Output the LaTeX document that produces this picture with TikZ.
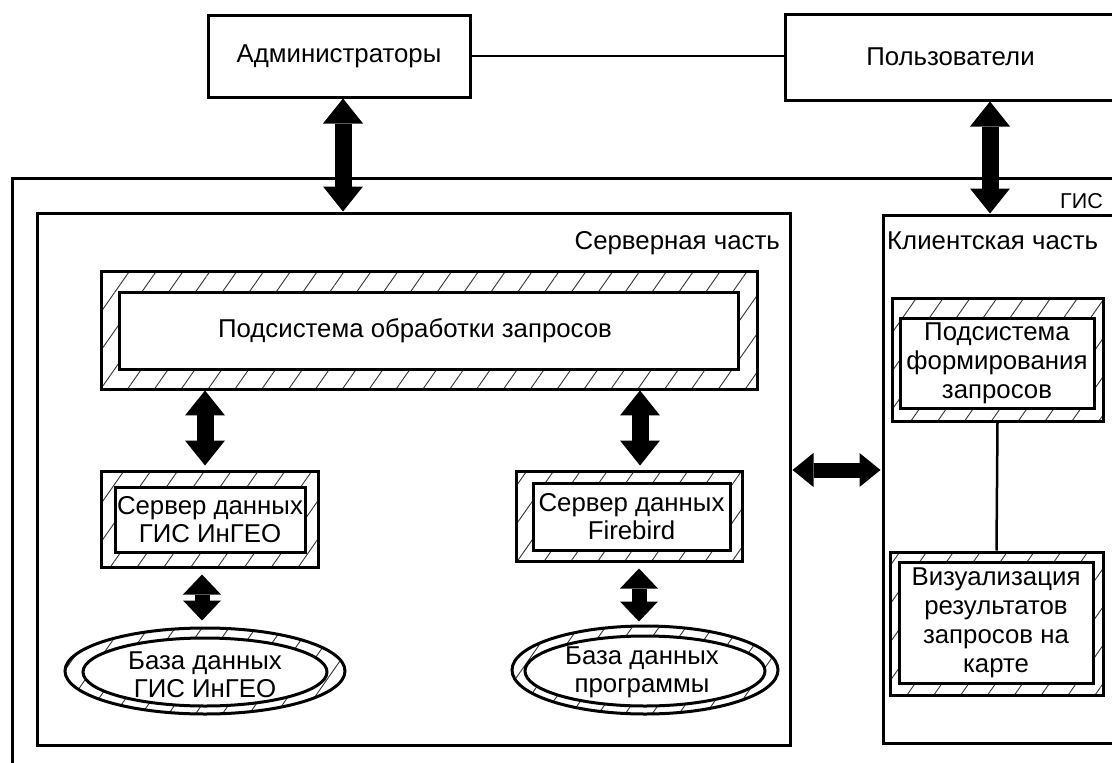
\documentclass[tikz,border=0pt]{standalone}
\usepackage{fontspec}
\setmainfont{Liberation Sans}
\usetikzlibrary{arrows.meta,patterns.meta,shapes.geometric}
\begin{document}
\begin{tikzpicture}[x=1pt,y=-1pt,
  box/.style={draw,line width=3pt,rectangle,inner sep=0pt},
  txt/.style={font=\fontsize{25.8}{28}\selectfont,align=center,inner sep=0pt},
  hatch/.style={draw,line width=3pt,inner sep=0pt,pattern={Lines[angle=55,distance=22pt,line width=0.9pt]},pattern color=black!80},
  inbox/.style={box,fill=white,txt},
  inell/.style={ellipse,draw,line width=3pt,fill=white,inner sep=0pt},
  dbl/.style={line width=17pt,{Triangle[width=40pt,length=25pt,line width=0pt]}-{Triangle[width=40pt,length=25pt,line width=0pt]}},
  dbls/.style={line width=15pt,{Triangle[width=38pt,length=20pt,line width=0pt]}-{Triangle[width=38pt,length=20pt,line width=0pt]}},
  dblh/.style={line width=15pt,{Triangle[width=34pt,length=21pt,line width=0pt]}-{Triangle[width=34pt,length=21pt,line width=0pt]}},
  link/.style={line width=2pt}
]
\useasboundingbox (0,0) rectangle (1112,763);
\begin{scope}
\clip (0,0) rectangle (1112,763);
% top boxes
\node[box,txt,minimum width=262,minimum height=82] (admin) at (339,56) {Администраторы};
\node[box,txt,minimum width=331,minimum height=86] (users) at (950.5,57) {Пользователи};
\draw[link] (admin.east) -- (admin.east -| users.west);
% GIS outer
\node[box,minimum width=1113,minimum height=612] (gis) at (568.5,484) {};
\node[txt,anchor=base east,font=\fontsize{21.5}{26}\selectfont] (gislbl) at (1103,208) {ГИС};
% server part
\node[box,minimum width=753,minimum height=532] (server) at (413.5,479) {};
\node[txt,anchor=base east] (srvlbl) at (780,249) {Серверная часть};
% client part
\node[box,minimum width=237,minimum height=528] (client) at (1001.5,479) {};
\node[txt,anchor=base west] (cllbl) at (887,249) {Клиентская часть};
% request processing subsystem
\node[hatch,rectangle,minimum width=656,minimum height=118] (sub1o) at (429,330) {};
\node[box,fill=white,minimum width=619,minimum height=77] (sub1) at (429,330.5) {};
\node[txt] (sub1t) at ([xshift=-14pt]sub1.center) {Подсистема обработки запросов};
% servers
\node[hatch,rectangle,minimum width=217,minimum height=96] (srvAo) at (209.5,519) {};
\node[inbox,minimum width=190,minimum height=65] (srvA) at (210,519.5) {Сервер данных\\ГИС ИнГЕО};
\node[hatch,rectangle,minimum width=226,minimum height=90] (srvBo) at (629,516) {};
\node[inbox,minimum width=197,minimum height=67] (srvB) at (631.5,516.5) {Сервер данных\\Firebird};
% databases
\node[hatch,ellipse,minimum width=280,minimum height=86] (dbAo) at (205,671) {};
\node[inell,minimum width=244,minimum height=68] (dbA) at (205,672) {};
\node[txt] (dbAt) at (205,675) {База данных\\ГИС ИнГЕО};
\node[hatch,ellipse,minimum width=266,minimum height=88] (dbBo) at (645,670) {};
\node[inell,minimum width=240,minimum height=70] (dbB) at (645,671) {};
\node[txt] (dbBt) at (642,672) {База данных\\программы};
% client subsystems
\node[hatch,rectangle,minimum width=211,minimum height=123] (cl1o) at (997.5,359.5) {};
\node[inbox,minimum width=194,minimum height=90,font=\fontsize{25.8}{29}\selectfont] (cl1) at (997,363) {Подсистема\\формирования\\запросов};
\node[hatch,rectangle,minimum width=213,minimum height=143] (cl2o) at (996.5,623.5) {};
\node[inbox,minimum width=194,minimum height=121,font=\fontsize{25.8}{29}\selectfont] (cl2) at (996,622.5) {Визуализация\\результатов\\запросов на\\карте};
\draw[line width=2.5pt] (cl1o.south) -- (cl2o.north);
% arrows
\draw[dbl] (343,0 |- admin.south) -- (343,0 |- server.north);
\draw[dbl] (990,0 |- users.south) -- (990,0 |- client.north);
\draw[dbl,shorten <=1pt,shorten >=4pt] (205,0 |- sub1o.south) -- (205,0 |- srvAo.north);
\draw[dbl,shorten <=1pt,shorten >=4pt] (640,0 |- sub1o.south) -- (640,0 |- srvBo.north);
\draw[dbls,shorten <=6pt,shorten >=6pt] (202,0 |- srvAo.south) -- (202,0 |- dbAo.north);
\draw[dbls,shorten <=6pt,shorten >=3pt] (639,0 |- srvBo.south) -- (639,0 |- dbBo.north);
\draw[dblh,shorten <=1pt,shorten >=1pt] (server.east |- 0,470) -- (client.west |- 0,470);
\end{scope}
\end{tikzpicture}
\end{document}
